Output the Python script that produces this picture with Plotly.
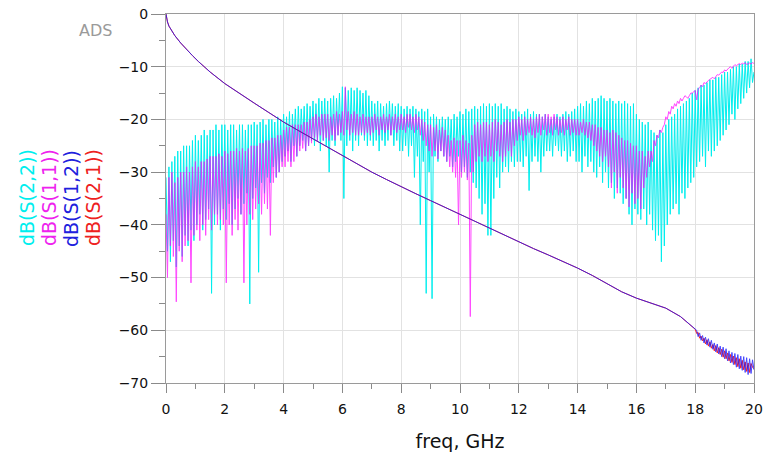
import plotly.graph_objects as go

# ---------------- data ----------------
# linear sweep used by the simulator: 0 .. 20 GHz, step 0.05 GHz
sweep_start_ghz, sweep_step_ghz, sweep_points = 0.0, 0.05, 401
freq_ghz = [round(sweep_start_ghz + i * sweep_step_ghz, 2) for i in range(sweep_points)]

# dB(S(2,2)) – one row per GHz (20 samples each), last value at 20 GHz
s22_rows = [
    [-31, -45, -29, -47, -28, -43, -27, -48, -26, -44, -26, -46, -25, -42, -25, -44, -25, -41, -24, -43],
    [-23, -40, -24, -38, -23, -41, -22, -39, -23, -37, -22, -53, -22, -40, -21, -38, -22, -41, -21, -37],
    [-21, -39, -22, -36, -21, -40, -21, -37, -22, -35, -21, -38, -21, -36, -22, -34, -21, -55, -21, -35],
    [-20.5, -33, -21, -49, -20.5, -32, -20, -34, -21, -31, -20, -32, -20, -29, -20.5, -31, -19.5, -30, -20, -28],
    [-19, -27, -19.5, -26, -18.5, -28, -19, -25, -18, -27, -17.5, -25, -18, -24, -17.5, -26, -17, -25, -17.5, -24],
    [-16.5, -25, -17, -24, -16, -26, -16.5, -24, -16, -25, -16.5, -30, -16, -24, -15.5, -25, -16, -23, -15, -24],
    [-13.8, -35, -14, -25, -14.5, -24, -14, -26, -14.5, -24, -14, -25, -14.5, -23, -15, -24, -14.5, -25, -15.5, -24],
    [-16.5, -25, -17, -24, -16.5, -26, -17, -24, -17.5, -25, -17, -24, -16.5, -23, -17, -25, -17.5, -24, -17, -26],
    [-17.5, -26, -18, -25, -17.5, -27, -18, -25, -17.5, -31, -18, -27, -18.5, -40, -18, -28, -18.5, -53, -18, -30],
    [-19.5, -54, -19, -27, -19.5, -28, -20, -26, -19.5, -27, -20, -28, -19.5, -27, -20, -29, -19, -28, -19.5, -27],
    [-18.5, -30, -19, -29, -18, -31, -18.5, -30, -18, -32, -17.5, -33, -18, -35, -17.5, -38, -17, -36, -17.5, -42],
    [-17, -42, -17.5, -35, -17, -31, -17.5, -33, -17, -30, -18, -29, -17.5, -30, -18, -28, -18.5, -29, -18, -28],
    [-18.5, -28, -19, -29, -18.5, -27, -18, -33.5, -19, -28, -18.5, -27, -19, -28, -19, -30, -19.5, -27, -19, -26],
    [-19.5, -26, -20, -27, -19.5, -25, -19, -26, -19.5, -27, -19, -26, -18.5, -28, -19, -27, -18.5, -26, -18, -28],
    [-17.5, -28, -17, -30, -17.5, -27, -16.5, -29, -17, -28, -16, -30, -16.5, -31, -16, -29, -15.5, -32, -16, -30],
    [-16.5, -33, -16, -32, -16.5, -35, -17, -33, -16.5, -34, -17, -36, -16.5, -35, -17, -38, -17.5, -40, -17, -37],
    [-19, -38, -20, -39, -20.5, -37, -21, -40, -20.5, -38, -22, -41, -22.5, -43, -23, -42, -22, -47, -22.5, -44],
    [-21, -40, -20, -38, -19.5, -37, -19, -36, -18, -38, -17.5, -34, -17, -35, -16.5, -33, -16, -32, -15, -31],
    [-14.5, -29, -14, -28, -13.5, -27, -13.5, -29, -13, -26, -12.5, -27, -12.5, -26, -12, -25, -12, -24, -11.5, -23],
    [-11, -22, -11, -21, -10.5, -19, -10, -20, -10, -18, -9.5, -17, -9.5, -16, -9, -15, -9, -14, -8.5, -13],
]
s22_last = [-11]

# dB(S(1,1))
s11_rows = [
    [-38, -50, -31, -44, -30, -46, -32, -54.6, -31, -45, -30, -47, -30, -44, -29, -43, -30, -51, -29, -42],
    [-28, -41, -29, -43, -28, -40, -28, -42, -27.5, -39, -27, -41, -27, -38, -27, -40, -26.5, -39, -27, -40],
    [-26, -51, -26.5, -40, -26, -42, -26, -39, -25.5, -41, -26, -38, -25.5, -51, -26, -40, -25.5, -38, -25, -39],
    [-25, -37, -25, -36, -24.5, -38, -24.5, -36, -24, -37, -24, -42, -23.5, -32, -23.5, -31, -23, -30, -23, -29],
    [-22, -29, -21.5, -28, -21.5, -29, -21, -28, -21, -27, -21, -26, -21, -25.5, -20.5, -26, -20.5, -25, -20, -24.5],
    [-19.5, -23.5, -19, -24, -19.5, -23, -19, -24, -19, -23.5, -19, -24, -19.5, -23, -19, -24, -18.5, -23, -19, -22.5],
    [-18.5, -23, -13.8, -22, -18.5, -23, -19, -22.5, -18.5, -23, -19, -23, -19.5, -22.5, -19, -23, -19.5, -22.5, -19.5, -23],
    [-19.5, -22.5, -19, -22, -19.5, -23, -19.5, -22, -19, -22.5, -19.5, -22, -19, -23, -19.5, -22, -19, -22.5, -19.5, -22],
    [-19, -22, -19.5, -22.5, -19, -21.5, -19, -22, -19.5, -22.5, -19, -22, -19.5, -23, -20, -24, -20.5, -25, -21, -26],
    [-21, -27, -21.5, -26, -21, -27.5, -22, -26, -21.5, -27, -22, -28, -23, -29, -24, -30, -23.5, -31, -24, -40],
    [-24, -31, -23, -30, -24, -31.5, -24.5, -57.4, -23, -30, -21, -28, -20.5, -27, -21, -28, -20.5, -27, -20.5, -28],
    [-21, -27, -20.5, -28, -20, -26, -20.5, -27, -21, -28, -20.5, -27, -20, -26, -20.5, -27, -20, -25, -20, -24],
    [-19.5, -23, -20, -24, -19.5, -23, -20, -22.5, -19.5, -23, -20, -23.5, -19.5, -22.5, -19, -23, -19.5, -22, -19, -23],
    [-19, -22.5, -19.5, -23, -19, -22, -19.5, -23, -20, -22.5, -19.5, -23, -20, -22, -19.5, -23, -20, -22.5, -20, -23],
    [-20, -23, -20.5, -22.5, -20, -23, -20.5, -23.5, -20.5, -24, -21, -25, -21, -26, -21.5, -27, -21.5, -28, -22, -27],
    [-22, -29, -22.5, -33, -22, -30, -22.5, -34, -23, -31, -23.5, -33, -24, -35, -24, -36.6, -24.5, -34, -25, -36],
    [-25, -35, -26, -37, -26, -33, -27, -31, -26, -29, -26, -28, -24, -25, -23, -23.5, -22, -22.5, -21.5, -21],
    [-19.5, -20, -18.5, -19, -17.5, -18, -17, -17.5, -16.5, -17, -16, -16.5, -16, -15.5, -15.7, -16, -15.5, -15, -15, -14.8],
    [-14.5, -16.3, -14.2, -14, -13.5, -13.8, -13, -13.2, -12.8, -12.6, -12.4, -12.2, -12, -12.3, -11.8, -11.5, -11.6, -11.2, -11, -11.1],
    [-10.6, -10.8, -10.4, -10.2, -10, -10.3, -9.9, -9.6, -9.8, -9.5, -9.4, -9.6, -9.3, -9.5, -9.2, -9.6, -9.4, -9.3, -9.5, -9.2],
]
s11_last = [-9.4]

# transmission: smooth part (0 .. 18 GHz)
thru_freq_ghz = [0, 0.02, 0.05, 0.1, 0.2, 0.3, 0.5, 0.7, 0.9, 1.1, 1.5, 2.0, 2.5, 3.0, 3.5, 4.0,
                 4.5, 5.0, 5.5, 6.0, 6.5, 7.0, 7.5, 8.0, 8.5, 9.0, 9.5, 10.0, 10.5, 11.0, 11.5,
                 12.0, 12.5, 13.0, 13.5, 14.0, 14.5, 15.0, 15.5, 16.0, 16.5, 17.0, 17.5, 18.0]
thru_db = [0, -0.9, -1.5, -2.3, -3.3, -4.1, -5.5, -6.8, -7.9, -9.0, -11.0, -13.2, -15.1, -16.9, -18.7, -20.5,
           -22.1, -23.7, -25.3, -26.9, -28.5, -30.0, -31.4, -32.8, -34.1, -35.4, -36.7, -38.0, -39.3, -40.6, -42.0,
           -43.3, -44.5, -45.7, -46.9, -48.2, -49.6, -51.2, -52.7, -53.9, -54.8, -55.8, -57.4, -59.8]

# noisy tail 18.05 .. 20 GHz
tail_freq_ghz = [round(18.05 + i * 0.05, 2) for i in range(40)]
s12_tail_db = [-60.0, -61.2, -60.5, -61.9, -61.0, -62.4, -61.3, -62.8, -61.6, -63.2,
               -61.9, -63.6, -62.4, -64.1, -62.6, -64.5, -63.0, -65.0, -63.2, -65.4,
               -63.5, -65.8, -63.9, -66.2, -64.2, -66.5, -64.4, -67.0, -64.6, -67.3,
               -64.9, -67.6, -65.0, -68.0, -65.2, -68.4, -65.4, -68.2, -65.6, -67.5]
s21_tail_db = [-60.6, -60.4, -61.5, -61.1, -62.0, -61.5, -62.6, -61.8, -63.0, -62.2,
               -63.4, -62.7, -63.9, -62.9, -64.3, -63.3, -64.6, -63.6, -65.1, -63.9,
               -65.4, -64.3, -65.8, -64.6, -66.1, -64.9, -66.5, -65.2, -66.9, -65.4,
               -67.2, -65.7, -67.5, -66.0, -67.8, -66.2, -68.0, -66.3, -67.0, -67.3]

x_ticks = [0, 2, 4, 6, 8, 10, 12, 14, 16, 18, 20]
y_ticks = [0, -10, -20, -30, -40, -50, -60, -70]
trace_names = ["dB(S(2,2))", "dB(S(1,1))", "dB(S(1,2))", "dB(S(2,1))"]

# ---------------- assemble series ----------------
s22_db = [v for row in s22_rows for v in row] + s22_last
s11_db = [v for row in s11_rows for v in row] + s11_last
s12_f = thru_freq_ghz + tail_freq_ghz
s12_db = thru_db + s12_tail_db
s21_f = thru_freq_ghz + tail_freq_ghz
s21_db = thru_db + s21_tail_db

CYAN, MAGENTA, BLUE, RED = "#00eeee", "#ff00ff", "#1a1aff", "#ff2020"
FONT = "DejaVu Sans"

fig = go.Figure()
fig.add_trace(go.Scatter(x=freq_ghz, y=s22_db, mode="lines", name=trace_names[0],
                         line=dict(color=CYAN, width=1)))
fig.add_trace(go.Scatter(x=freq_ghz, y=s11_db, mode="lines", name=trace_names[1],
                         line=dict(color=MAGENTA, width=1), opacity=0.72))
fig.add_trace(go.Scatter(x=s21_f, y=s21_db, mode="lines", name=trace_names[3],
                         line=dict(color=RED, width=1)))
fig.add_trace(go.Scatter(x=s12_f, y=s12_db, mode="lines", name=trace_names[2],
                         line=dict(color=BLUE, width=1), opacity=0.8))

axis_common = dict(
    showgrid=True, gridcolor="#e2e2e2", gridwidth=1,
    showline=True, linecolor="#9a9a9a", linewidth=1, mirror=True,
    ticks="outside", tickcolor="#8a8a8a", tickwidth=1,
    tickfont=dict(family=FONT, size=14, color="#111111"),
    zeroline=False, automargin=False,
)

fig.update_layout(
    width=771, height=465, autosize=False,
    margin=dict(l=166, r=17, t=14, b=82, pad=0),
    paper_bgcolor="white", plot_bgcolor="white",
    showlegend=False,
    font=dict(family=FONT),
    xaxis=dict(range=[0, 20], tickvals=x_ticks, ticklen=9, ticklabelstandoff=4,
               minor=dict(dtick=1, ticks="outside", ticklen=5, tickcolor="#8a8a8a", showgrid=False),
               title=dict(text="freq, GHz", font=dict(family=FONT, size=19, color="#111111"), standoff=18),
               **axis_common),
    yaxis=dict(range=[-70, 0], tickvals=y_ticks, ticklen=14,
               minor=dict(dtick=5, ticks="outside", ticklen=6, tickcolor="#8a8a8a", showgrid=False),
               **axis_common),
)

# rotated trace labels (ADS style legend)
label_colors = [CYAN, "#ee22ee", "#2020dd", "#ee2020"]
label_x_px = [27, 49, 71, 93]
for name, col, xp in zip(trace_names, label_colors, label_x_px):
    fig.add_annotation(text=name, textangle=-90, xref="paper", yref="paper",
                       x=(xp - 166) / 588, y=(383 - 198) / 369,
                       xanchor="center", yanchor="middle", showarrow=False,
                       font=dict(family=FONT, size=19, color=col))

fig.add_annotation(text="ADS", xref="paper", yref="paper",
                   x=(95 - 166) / 588, y=(383 - 30) / 369,
                   xanchor="center", yanchor="middle", showarrow=False,
                   font=dict(family=FONT, size=16, color="#9a9a9a"))

fig.write_html("out.html", config={"displayModeBar": False, "responsive": False},
               post_script="document.body.style.margin='0px';document.body.style.overflow='hidden';")
